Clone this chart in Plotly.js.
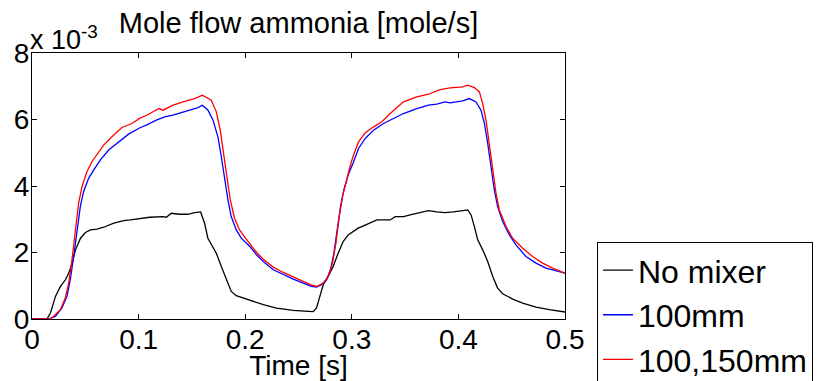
<!DOCTYPE html>
<html>
<head>
<meta charset="utf-8">
<script src="https://cdn.plot.ly/plotly-3.0.1.min.js"></script>
<style>html,body{margin:0;padding:0;background:#fff;overflow:hidden}#chart{width:818px;height:381px}</style>
</head>
<body>
<div id="chart"></div>
<script>
// Values in units of 1e-3 mole/s
var seriesNames = ["No mixer", "100mm", "100,150mm"];
var seriesColors = ["#000000", "#0000ff", "#ff0000"];

var tNoMixer = [0, 0.014, 0.0173, 0.022, 0.0267, 0.0314, 0.0345, 0.0376, 0.0408, 0.0455, 0.0501, 0.0548, 0.061, 0.0673, 0.0767, 0.086, 0.0923, 0.1017, 0.1104, 0.1229, 0.126, 0.1307, 0.1385, 0.1463, 0.1526, 0.1582, 0.1619, 0.165, 0.1682, 0.1729, 0.1776, 0.1822, 0.1869, 0.1916, 0.201, 0.2076, 0.217, 0.2294, 0.2451, 0.2591, 0.2638, 0.2669, 0.27, 0.2732, 0.2779, 0.2825, 0.2872, 0.2919, 0.2966, 0.3013, 0.3063, 0.3094, 0.3172, 0.3235, 0.3297, 0.336, 0.3407, 0.3485, 0.3547, 0.3641, 0.3719, 0.3797, 0.3875, 0.3953, 0.4016, 0.404, 0.4087, 0.4119, 0.415, 0.4181, 0.4228, 0.4275, 0.4322, 0.4368, 0.4415, 0.4509, 0.4603, 0.4728, 0.4853, 0.5];
var vNoMixer = [0, 0, 0.18, 0.68, 0.98, 1.18, 1.38, 1.68, 2.08, 2.43, 2.6, 2.68, 2.7, 2.76, 2.88, 2.96, 2.98, 3.03, 3.06, 3.08, 3.06, 3.18, 3.15, 3.15, 3.2, 3.22, 2.88, 2.43, 2.23, 1.98, 1.58, 1.18, 0.83, 0.7, 0.6, 0.53, 0.43, 0.33, 0.26, 0.23, 0.22, 0.33, 0.68, 1.03, 1.28, 1.58, 1.98, 2.33, 2.53, 2.64, 2.74, 2.78, 2.88, 2.98, 2.98, 2.98, 3.08, 3.08, 3.13, 3.2, 3.26, 3.22, 3.2, 3.22, 3.26, 3.26, 3.28, 3.13, 2.78, 2.38, 2.08, 1.73, 1.28, 0.93, 0.76, 0.6, 0.48, 0.36, 0.28, 0.21];

var t100 = [0, 0.0156, 0.0219, 0.0281, 0.0328, 0.0359, 0.0391, 0.0422, 0.0453, 0.0484, 0.0531, 0.0578, 0.064, 0.0719, 0.0812, 0.0906, 0.1017, 0.1073, 0.1166, 0.1245, 0.1323, 0.1416, 0.151, 0.1557, 0.1598, 0.1651, 0.1698, 0.1744, 0.1776, 0.1807, 0.1838, 0.1869, 0.1916, 0.1963, 0.201, 0.2044, 0.2107, 0.217, 0.2263, 0.2357, 0.2451, 0.2544, 0.2622, 0.2669, 0.2716, 0.2763, 0.28, 0.2832, 0.2863, 0.2894, 0.2925, 0.2966, 0.3013, 0.3063, 0.3126, 0.3204, 0.3297, 0.3391, 0.3485, 0.361, 0.3719, 0.3797, 0.3875, 0.3922, 0.4016, 0.404, 0.4103, 0.4165, 0.4212, 0.4244, 0.4275, 0.4306, 0.4337, 0.4368, 0.4415, 0.4478, 0.454, 0.4634, 0.4728, 0.4821, 0.4915, 0.5];
var v100 = [0, 0, 0.08, 0.33, 0.68, 1.18, 1.88, 2.68, 3.38, 3.83, 4.23, 4.48, 4.78, 5.08, 5.33, 5.56, 5.76, 5.83, 5.98, 6.08, 6.13, 6.23, 6.33, 6.36, 6.43, 6.28, 5.98, 5.48, 4.88, 4.18, 3.58, 3.08, 2.68, 2.43, 2.28, 2.18, 1.93, 1.73, 1.48, 1.33, 1.2, 1.08, 0.98, 0.96, 1.03, 1.18, 1.48, 1.98, 2.68, 3.38, 3.88, 4.33, 4.7, 5.13, 5.43, 5.68, 5.88, 6.03, 6.18, 6.33, 6.43, 6.46, 6.53, 6.5, 6.53, 6.56, 6.63, 6.53, 6.28, 5.88, 5.28, 4.58, 3.88, 3.38, 2.93, 2.53, 2.23, 1.88, 1.68, 1.53, 1.46, 1.38];

var t100150 = [0, 0.0156, 0.0187, 0.0266, 0.0312, 0.0344, 0.0375, 0.0406, 0.0437, 0.0469, 0.0515, 0.0562, 0.0625, 0.0672, 0.075, 0.0843, 0.0937, 0.1017, 0.1073, 0.1191, 0.1229, 0.1323, 0.1448, 0.1526, 0.1598, 0.1682, 0.1729, 0.1766, 0.1797, 0.1829, 0.186, 0.19, 0.1947, 0.201, 0.2044, 0.2107, 0.217, 0.2263, 0.2357, 0.2451, 0.2544, 0.2622, 0.2675, 0.2732, 0.2779, 0.2819, 0.2851, 0.2882, 0.2913, 0.2951, 0.2982, 0.3013, 0.3063, 0.3126, 0.3204, 0.3282, 0.336, 0.3485, 0.361, 0.3719, 0.3828, 0.3922, 0.4016, 0.404, 0.4087, 0.415, 0.4197, 0.4228, 0.4259, 0.429, 0.4322, 0.4353, 0.4384, 0.4447, 0.4509, 0.4603, 0.4696, 0.479, 0.4884, 0.5];
var v100150 = [0, 0, 0.03, 0.28, 0.63, 1.08, 1.78, 2.68, 3.48, 3.98, 4.43, 4.73, 5.03, 5.23, 5.48, 5.76, 5.88, 6.05, 6.12, 6.33, 6.28, 6.43, 6.56, 6.63, 6.73, 6.58, 6.23, 5.68, 4.98, 4.28, 3.58, 3.03, 2.68, 2.4, 2.25, 2.0, 1.8, 1.56, 1.4, 1.26, 1.13, 1.02, 0.98, 1.08, 1.28, 1.68, 2.28, 3.08, 3.68, 4.23, 4.58, 4.9, 5.33, 5.6, 5.78, 5.93, 6.18, 6.53, 6.68, 6.76, 6.9, 6.95, 6.98, 6.98, 7.03, 6.96, 6.83, 6.48, 5.98, 5.28, 4.48, 3.78, 3.28, 2.78, 2.43, 2.13, 1.88, 1.68, 1.53, 1.38];

var xTickVals = [0, 0.1, 0.2, 0.3, 0.4, 0.5];
var xTickText = ["0", "0.1", "0.2", "0.3", "0.4", "0.5"];
var yTickVals = [0, 2, 4, 6, 8];
var yTickText = ["0", "2", "4", "6", "8"];

var FONT = "Liberation Sans, Arial, Helvetica, sans-serif";
var xs = [tNoMixer, t100, t100150];
var ys = [vNoMixer, v100, v100150];
var data = xs.map(function (x, i) {
  return {x: x, y: ys[i], type: "scatter", mode: "lines", name: seriesNames[i],
          line: {color: seriesColors[i], width: 1.3}};
});

var axisCommon = {showline: true, linecolor: "#000", linewidth: 1, mirror: "ticks", ticks: "inside",
  ticklen: 5, tickcolor: "#000", showgrid: false, zeroline: false,
  tickfont: {family: FONT, size: 28, color: "#000"}};

var layout = {
  width: 818, height: 381,
  margin: {l: 32, r: 253, t: 53, b: 62, autoexpand: false},
  paper_bgcolor: "#fff", plot_bgcolor: "#fff",
  showlegend: true,
  title: {text: "Mole flow ammonia [mole/s]", font: {family: FONT, size: 29, color: "#000"},
          xref: "paper", x: 0.5, xanchor: "center", yref: "container", y: 0.94, yanchor: "middle"},
  xaxis: Object.assign({}, axisCommon, {range: [0, 0.5], tickvals: xTickVals, ticktext: xTickText,
          ticklabelstandoff: -5,
          title: {text: "Time [s]", font: {family: FONT, size: 28, color: "#000"}, standoff: 0}}),
  yaxis: Object.assign({}, axisCommon, {range: [0, 8], tickvals: yTickVals, ticktext: yTickText,
          ticklabelstandoff: -4}),
  legend: {x: 1.06, xanchor: "left", y: 0.29, yanchor: "top", bgcolor: "#fff",
           bordercolor: "#000", borderwidth: 1, font: {family: FONT, size: 32, color: "#000"},
           tracegroupgap: 0},
  annotations: [{text: "x 10<sup>-3</sup>", xref: "paper", yref: "paper", x: 0, y: 1, xanchor: "left",
                 yanchor: "bottom", showarrow: false, font: {family: FONT, size: 27, color: "#000"}, xshift: -4, yshift: -4}]
};

Plotly.newPlot("chart", data, layout, {displayModeBar: false, staticPlot: true});
</script>
</body>
</html>
